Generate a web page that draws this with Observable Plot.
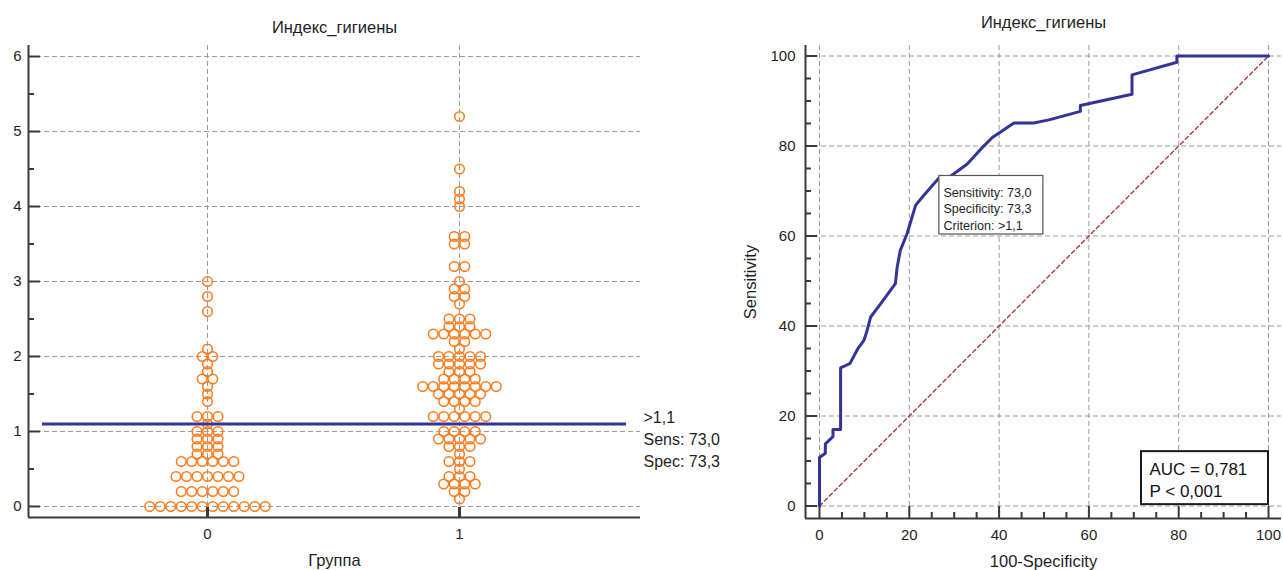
<!DOCTYPE html>
<html><head><meta charset="utf-8">
<script src="https://cdn.jsdelivr.net/npm/d3@7"></script>
<script src="https://cdn.jsdelivr.net/npm/@observablehq/plot@0.6"></script>
<style>
body{margin:0;background:#fff;}
#wrap{position:relative;width:1283px;height:570px;overflow:hidden;background:#fff;}
#wrap svg{position:absolute;top:0;overflow:visible;}
</style></head><body><div id="wrap"></div>
<script>
// ---------- data ----------
const chartTitle = "Индекс_гигиены";
const groups = [0, 1];
const groupAxisLabel = "Группа";
const yTicksLeft = [0, 1, 2, 3, 4, 5, 6];
// Group 0: distinct values and number of subjects at each value
const g0Values = [0, 0.2, 0.4, 0.6, 0.7, 0.8, 0.9, 1.0, 1.1, 1.2, 1.4, 1.5, 1.6, 1.7, 1.8, 1.9, 2.0, 2.1, 2.6, 2.8, 3.0];
const g0Counts = [12, 6, 7, 6, 3, 3, 3, 3, 1, 3, 1, 1, 1, 2, 1, 1, 2, 1, 1, 1, 1];
// Group 1
const g1Values = [0.1, 0.2, 0.3, 0.4, 0.5, 0.6, 0.7, 0.8, 0.9, 1.0, 1.2, 1.3, 1.4, 1.5, 1.6, 1.7, 1.8, 1.9, 2.0, 2.1, 2.2, 2.3, 2.4, 2.5, 2.7, 2.8, 2.9, 3.0, 3.2, 3.5, 3.6, 4.0, 4.1, 4.2, 4.5, 5.2];
const g1Counts = [1, 2, 4, 3, 1, 3, 1, 3, 5, 4, 6, 1, 4, 5, 8, 4, 3, 5, 5, 1, 2, 6, 3, 3, 1, 2, 2, 1, 2, 2, 2, 1, 1, 1, 1, 1];
const criterion = 1.1;
const criterionLabels = [">1,1", "Sens: 73,0", "Spec: 73,3"];
const sensitivity = 73.0;
const specificity = 73.3;

// ROC curve (100-Specificity, Sensitivity)
const rocX = [0, 0, 0.6, 1.3, 1.3, 3.0, 3.0, 4.7, 4.7, 5.4, 6.8, 8.5, 9.9, 10.6, 11.4, 13.6, 15.8, 16.9, 17.3, 18.0, 19.5, 21.4, 23.2, 26.7, 28.8, 32.9, 36.3, 38.5, 43.3, 47.7, 51.1, 58.1, 58.1, 69.6, 69.6, 79.6, 79.6, 100];
const rocY = [0, 10.8, 11.2, 11.7, 13.8, 15.4, 17.0, 17.0, 30.7, 31.0, 31.7, 34.9, 36.8, 39.0, 42.0, 44.9, 47.9, 49.4, 53.1, 56.8, 60.5, 66.8, 69.0, 73.0, 73.0, 76.0, 79.7, 81.9, 85.1, 85.1, 85.8, 87.7, 89.0, 91.5, 95.8, 98.6, 100, 100];
const refDiagonal = [0, 100];
const rocTicks = [0, 20, 40, 60, 80, 100];
const rocMinorTicks = d3.range(0, 101, 5).filter(d => d % 20 !== 0);
const tipLines = ["Sensitivity: 73,0", "Specificity: 73,3", "Criterion: >1,1"];
const aucLines = ["AUC = 0,781", "P < 0,001"];
const rocXLabel = "100-Specificity";
const rocYLabel = "Sensitivity";

// ---------- styling ----------
const FONT = '"Liberation Sans", Arial, sans-serif';
const AXIS = "#3a3a3a";
const GRID = "#9a9a9a";
const DASH = "5,3";
const BLUE = "#333399";
const ORANGE = "#ff7a1a";
const TXT = "#1e1e1e";
const TICKFS = 15, LABELFS = 16.5;
const wrap = document.getElementById("wrap");

// ---------- left chart: dot plot ----------
const L = {w: 735, h: 570, ml: 28, mr: 95, mt: 45, mb: 53};
const Lplot = L.w - L.ml - L.mr;              // 612 px
const LxDom = [-0.7103, 1.7183];
const LyDom = [-0.147, 6.147];
const pxX = Lplot / (LxDom[1] - LxDom[0]);    // px per group unit
const pxY = (L.h - L.mt - L.mb) / (LyDom[1] - LyDom[0]);
const slot = 10.5 / pxX;                      // horizontal spacing of dots

const dots = [];
[[0, g0Values, g0Counts], [1, g1Values, g1Counts]].forEach(([g, vals, cnts]) => {
  vals.forEach((v, k) => {
    const n = cnts[k];
    for (let i = 0; i < n; i++) dots.push({x: g + (i - (n - 1) / 2) * slot, y: v});
  });
});

const left = Plot.plot({
  width: L.w, height: L.h,
  marginLeft: L.ml, marginRight: L.mr, marginTop: L.mt, marginBottom: L.mb,
  style: {fontFamily: FONT, fontSize: "14px", background: "transparent", color: TXT, overflow: "visible"},
  x: {type: "linear", domain: LxDom, axis: null},
  y: {domain: LyDom, axis: null},
  marks: [
    Plot.ruleY(yTicksLeft, {stroke: GRID, strokeDasharray: DASH, strokeWidth: 1}),
    Plot.ruleX(groups, {stroke: GRID, strokeDasharray: DASH, strokeWidth: 1}),
    Plot.dot(dots, {x: "x", y: "y", r: 4.8, stroke: ORANGE, strokeWidth: 1.5, fill: "none"}),
    Plot.ruleY([criterion], {stroke: BLUE, strokeWidth: 3, insetLeft: 14, insetRight: 14}),
    Plot.text([criterionLabels.join("\n")], {x: LxDom[1], y: criterion, text: d => d, textAnchor: "start", lineAnchor: "top", dx: 3, dy: -16.5, fontSize: 16, lineHeight: 1.38, fill: TXT}),
    // axis lines
    Plot.ruleX([LxDom[0]], {stroke: AXIS, strokeWidth: 2}),
    Plot.ruleY([LyDom[0]], {stroke: AXIS, strokeWidth: 2}),
    // ticks (inward)
    Plot.ruleY(yTicksLeft, {x1: LxDom[0], x2: LxDom[0] + 12 / pxX, stroke: AXIS, strokeWidth: 2}),
    Plot.ruleY(d3.range(0.5, 6, 1), {x1: LxDom[0], x2: LxDom[0] + 6 / pxX, stroke: AXIS, strokeWidth: 2}),
    Plot.ruleX(groups, {y1: LyDom[0], y2: LyDom[0] + 10 / pxY, stroke: AXIS, strokeWidth: 3}),
    Plot.axisY(yTicksLeft, {tickSize: 0, tickPadding: 7, fontSize: TICKFS, tickFormat: d => String(d), label: null}),
    Plot.axisX(groups, {tickSize: 0, tickPadding: 11, fontSize: TICKFS, tickFormat: d => String(d), label: null}),
    Plot.text([groupAxisLabel], {frameAnchor: "bottom", textAnchor: "middle", lineAnchor: "middle", dy: 43, fontSize: LABELFS, fill: TXT}),
    Plot.text([chartTitle], {frameAnchor: "top", textAnchor: "middle", lineAnchor: "middle", dy: -18, fontSize: LABELFS, fill: TXT})
  ]
});
left.style.left = "0px";
wrap.appendChild(left);

// ---------- right chart: ROC curve ----------
const R = {x0: 735, w: 548, h: 570, ml: 70, mr: 2, mt: 45, mb: 52};
const RxDom = [-3.118, 102.895];
const RyDom = [-2.78, 102.33];
const rpx = (R.w - R.ml - R.mr) / (RxDom[1] - RxDom[0]);
const rpy = (R.h - R.mt - R.mb) / (RyDom[1] - RyDom[0]);
const roc = rocX.map((x, i) => ({x, y: rocY[i]}));
const critPt = {x: 100 - specificity, y: sensitivity};

const right = Plot.plot({
  width: R.w, height: R.h,
  marginLeft: R.ml, marginRight: R.mr, marginTop: R.mt, marginBottom: R.mb,
  style: {fontFamily: FONT, fontSize: "14px", background: "transparent", color: TXT, overflow: "visible"},
  x: {domain: RxDom, axis: null},
  y: {domain: RyDom, axis: null},
  marks: [
    Plot.ruleX(rocTicks, {stroke: GRID, strokeDasharray: DASH, strokeWidth: 1}),
    Plot.ruleY(rocTicks, {stroke: GRID, strokeDasharray: DASH, strokeWidth: 1}),
    Plot.line(refDiagonal, {x: d => d, y: d => d, stroke: "#a83a3a", strokeWidth: 1.4, strokeDasharray: "4,3"}),
    Plot.line(roc, {x: "x", y: "y", stroke: BLUE, strokeWidth: 3, curve: "linear"}),
    // criterion tooltip box
    Plot.rect([critPt], {x1: d => d.x, x2: d => d.x + 104 / rpx, y1: d => d.y + 1.5 / rpy, y2: d => d.y - 57 / rpy, fill: "white", stroke: "#555", strokeWidth: 1.2}),
    Plot.text([critPt], {x: "x", y: "y", text: () => tipLines.join("\n"), textAnchor: "start", lineAnchor: "top", dx: 4, dy: 7.5, fontSize: 12.6, lineHeight: 1.32, fill: TXT}),
    // AUC box anchored at bottom-right corner (100, 0)
    Plot.rect([{x: 100, y: 0}], {x1: d => d.x - 127 / rpx, x2: "x", y1: d => d.y + 0.3, y2: d => d.y + 0.3 + 53 / rpy, fill: "white", stroke: "#1a1a1a", strokeWidth: 2}),
    Plot.text([{x: 100, y: 0}], {x: d => d.x - 127 / rpx, y: d => d.y + 0.3 + 53 / rpy, text: () => aucLines.join("\n"), textAnchor: "start", lineAnchor: "top", dx: 8, dy: 8, fontSize: 17, lineHeight: 1.28, fill: "#111"}),
    // axis lines
    Plot.ruleX([RxDom[0]], {stroke: AXIS, strokeWidth: 2}),
    Plot.ruleY([RyDom[0]], {stroke: AXIS, strokeWidth: 2}),
    // inward ticks
    Plot.ruleY(rocTicks, {x1: RxDom[0], x2: RxDom[0] + 12 / rpx, stroke: AXIS, strokeWidth: 2}),
    Plot.ruleY(rocMinorTicks, {x1: RxDom[0], x2: RxDom[0] + 6 / rpx, stroke: AXIS, strokeWidth: 2}),
    Plot.ruleX(rocTicks, {y1: RyDom[0], y2: RyDom[0] + 12 / rpy, stroke: AXIS, strokeWidth: 2}),
    Plot.ruleX(rocMinorTicks, {y1: RyDom[0], y2: RyDom[0] + 6 / rpy, stroke: AXIS, strokeWidth: 2}),
    Plot.axisY(rocTicks, {tickSize: 0, tickPadding: 10, fontSize: TICKFS, label: null}),
    Plot.axisX(rocTicks, {tickSize: 0, tickPadding: 11, fontSize: TICKFS, label: null}),
    Plot.text([rocXLabel], {frameAnchor: "bottom", textAnchor: "middle", lineAnchor: "middle", dy: 43, fontSize: LABELFS, fill: TXT}),
    Plot.text([rocYLabel], {frameAnchor: "left", textAnchor: "middle", lineAnchor: "middle", dx: -55, rotate: -90, fontSize: LABELFS, fill: TXT}),
    Plot.text([chartTitle], {frameAnchor: "top", textAnchor: "middle", lineAnchor: "middle", dy: -23, fontSize: LABELFS, fill: TXT})
  ]
});
right.style.left = R.x0 + "px";
wrap.appendChild(right);
</script>
</body></html>
